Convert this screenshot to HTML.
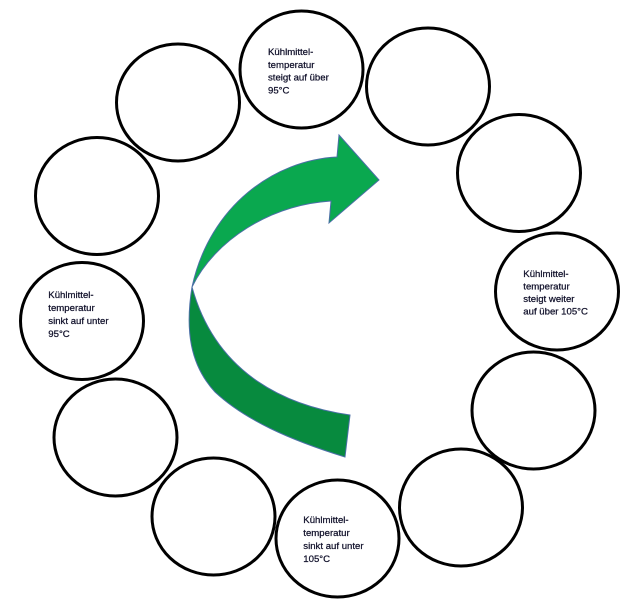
<!DOCTYPE html>
<html>
<head>
<meta charset="utf-8">
<style>
  html, body { margin: 0; padding: 0; background: #fff; }
  body { width: 640px; height: 611px; overflow: hidden; }
  svg { display: block; }
  text { font-family: "Liberation Sans", "DejaVu Sans", sans-serif; font-size: 9.6px; fill: #10102a; stroke: #10102a; stroke-width: 0.25px; }
</style>
</head>
<body>
<svg width="640" height="611" viewBox="0 0 640 611" xmlns="http://www.w3.org/2000/svg">
  <g fill="none" stroke="#000" stroke-width="3">
    <ellipse cx="301.5" cy="69.5" rx="61.5" ry="58.5"/>
    <ellipse cx="428" cy="86.5" rx="61.5" ry="58.5"/>
    <ellipse cx="519" cy="173" rx="61.5" ry="58.5"/>
    <ellipse cx="557" cy="291.5" rx="61.5" ry="58.5"/>
    <ellipse cx="533.5" cy="410.5" rx="61.5" ry="58.5"/>
    <ellipse cx="461" cy="507.5" rx="61.5" ry="58.5"/>
    <ellipse cx="337.5" cy="538.5" rx="61.5" ry="58.5"/>
    <ellipse cx="213.5" cy="516.5" rx="61.5" ry="58.5"/>
    <ellipse cx="115.5" cy="437.5" rx="61.5" ry="58.5"/>
    <ellipse cx="82" cy="321" rx="61.5" ry="58.5"/>
    <ellipse cx="97" cy="196" rx="61.5" ry="58.5"/>
    <ellipse cx="178" cy="102.5" rx="61.5" ry="58.5"/>
  </g>

  <!-- curved arrow: dark back part -->
  <path d="M 192,287 C 185,330 190,365 215,392 C 245,420 290,440 345,457 L 350,415 C 280,405 215,370 192,287 Z"
        fill="#078a3e" stroke="#4a6fa5" stroke-width="1"/>
  <!-- curved arrow: light front part with head -->
  <path d="M 337,157 L 339,135 L 379,180 L 329,223 L 331,201 C 270,205 215,240 192,287 C 210,205 275,160 337,157 Z"
        fill="#0aa84f" stroke="#4a6fa5" stroke-width="1"/>

  <!-- labels -->
  <text x="268" y="55">Kühlmittel-</text>
  <text x="268" y="67.8">temperatur</text>
  <text x="268" y="80.6">steigt auf über</text>
  <text x="268" y="93.4">95°C</text>

  <text x="523.3" y="277">Kühlmittel-</text>
  <text x="523.3" y="289.5">temperatur</text>
  <text x="523.3" y="302">steigt weiter</text>
  <text x="523.3" y="314.5">auf über 105°C</text>

  <text x="48.3" y="298">Kühlmittel-</text>
  <text x="48.3" y="311">temperatur</text>
  <text x="48.3" y="324">sinkt auf unter</text>
  <text x="48.3" y="337">95°C</text>

  <text x="303.3" y="523">Kühlmittel-</text>
  <text x="303.3" y="536">temperatur</text>
  <text x="303.3" y="549">sinkt auf unter</text>
  <text x="303.3" y="562">105°C</text>
</svg>
</body>
</html>
